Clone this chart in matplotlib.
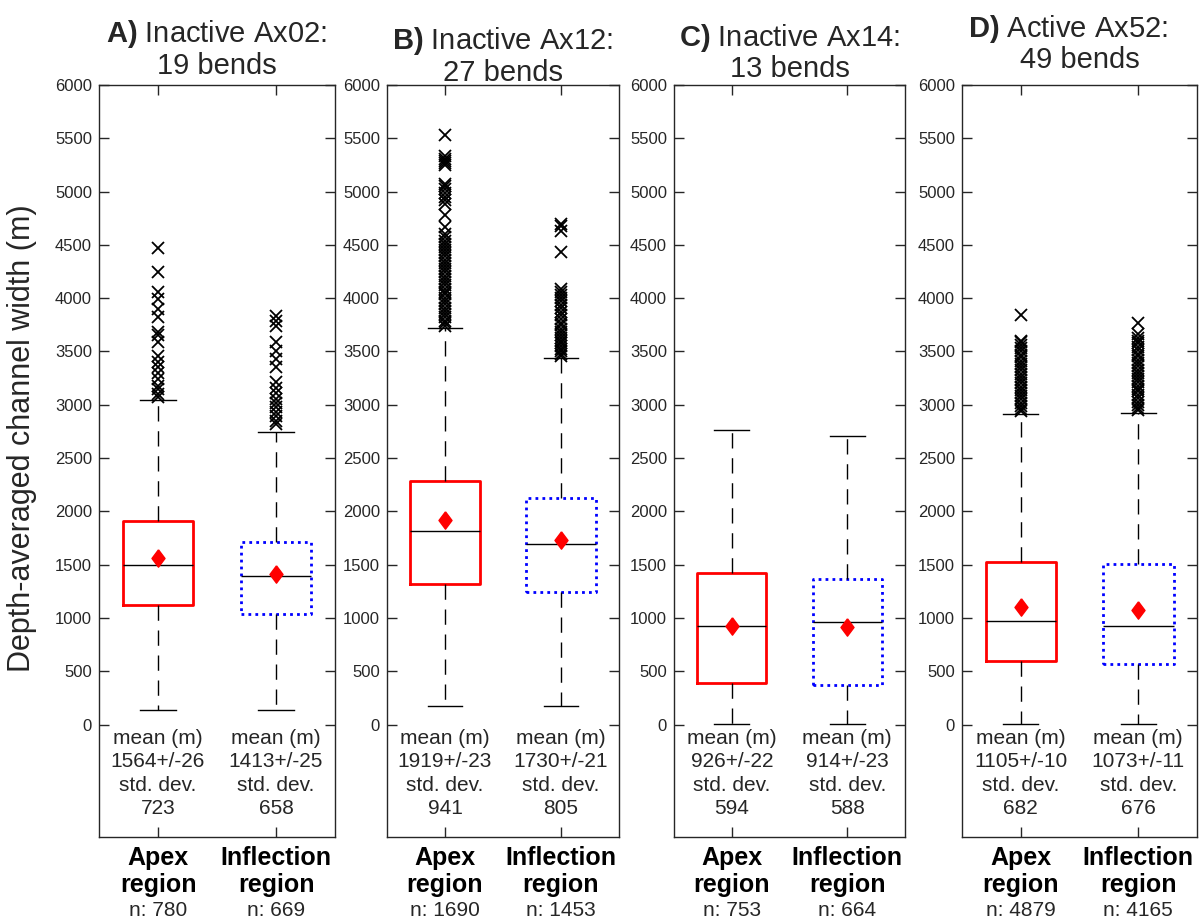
import numpy as np
import matplotlib.pyplot as plt
from matplotlib.transforms import blended_transform_factory

plt.rcParams['font.family'] = 'Liberation Sans'
plt.rcParams['mathtext.fontset'] = 'custom'
plt.rcParams['mathtext.rm'] = 'Liberation Sans'
plt.rcParams['mathtext.bf'] = 'Liberation Sans:bold'

# ---- data ----
panel_tag  = ['A)', 'B)', 'C)', 'D)']
panel_name = ['Inactive Ax02:', 'Inactive Ax12:', 'Inactive Ax14:', 'Active Ax52:']
n_bends    = [19, 27, 13, 49]
region_lbl = ['Apex', 'Inflection']

# each entry: [apex, inflection]
q1_w     = [[1117, 1039], [1322, 1247], [387, 375], [597, 572]]
med_w    = [[1494, 1398], [1819, 1697], [922, 959], [972, 922]]
q3_w     = [[1905, 1714], [2287, 2128], [1418, 1366], [1525, 1509]]
whislo_w = [[136, 133], [178, 178], [5, 5], [3, 3]]
whishi_w = [[3042, 2744], [3719, 3443], [2768, 2703], [2916, 2925]]
mean_w   = [[1564, 1413], [1919, 1730], [926, 914], [1105, 1073]]
sem_w    = [[26, 25], [23, 21], [22, 23], [10, 11]]
std_w    = [[723, 658], [941, 805], [594, 588], [682, 676]]
n_obs    = [[780, 669], [1690, 1453], [753, 664], [4879, 4165]]

out_A_apex = [4470, 4250, 4055, 3990, 3900, 3820, 3680, 3650, 3590, 3460, 3400,
              3350, 3300, 3240, 3180, 3150, 3100, 3070]
out_A_infl = [3835, 3790, 3740, 3585, 3505, 3430, 3350, 3210, 3160, 3115, 3050,
              3020, 2975, 2930, 2895, 2850, 2815]
out_B_apex = [5527, 5330, 5305, 5290, 5265, 5245, 5074, 5050, 5020, 4985, 4950,
              4920, 4880, 4780, 4670, 4605, 4575, 4540, 4512, 4480, 4455, 4420,
              4395, 4360, 4330, 4305, 4270, 4245, 4210, 4180, 4150, 4125, 4090,
              4060, 4035, 4000, 3970, 3945, 3910, 3880, 3855, 3820, 3790, 3765,
              3740]
out_B_infl = [4700, 4680, 4630, 4430, 4090, 4060, 4030, 4005, 3970, 3940, 3905,
              3870, 3840, 3805, 3770, 3745, 3710, 3680, 3650, 3625, 3600, 3580,
              3555, 3520, 3500, 3480, 3460]
out_C_apex = []
out_C_infl = []
out_D_apex = [3845, 3600, 3585, 3560, 3530, 3500, 3470, 3445, 3410, 3380, 3350,
              3325, 3290, 3260, 3230, 3205, 3170, 3140, 3110, 3085, 3050, 3020,
              2990, 2960, 2940]
out_D_infl = [3770, 3660, 3630, 3600, 3575, 3540, 3510, 3480, 3455, 3420, 3390,
              3365, 3330, 3300, 3270, 3245, 3210, 3180, 3150, 3125, 3090, 3060,
              3030, 3000, 2970, 2950]
outliers = [[out_A_apex, out_A_infl], [out_B_apex, out_B_infl],
            [out_C_apex, out_C_infl], [out_D_apex, out_D_infl]]

# ---- layout ----
W, H = 1201, 922
ax_left_px  = [99, 387, 674, 962]
ax_right_px = [335, 619, 905, 1197]
ax_top_px, ax_bot_px = 85, 837
title_base1 = [42, 49, 46, 37]
title_base2 = [74, 81, 77, 68]
title_dx1 = [0, 0, 0, -12]
title_dx2 = [0, 0, 0, 0]

txt_col = '#262626'
box_col = ['red', 'blue']
box_ls = ['-', (0, (1, 1.5))]
diamond = [(0, 1), (0.75, 0), (0, -1), (-0.75, 0), (0, 1)]

def fy(y):
    return 1 - y / H

fig = plt.figure(figsize=(W / 100, H / 100), dpi=100)

for p in range(4):
    l = ax_left_px[p] / W
    w = (ax_right_px[p] - ax_left_px[p]) / W
    b = fy(ax_bot_px)
    h = (ax_bot_px - ax_top_px) / H
    ax = fig.add_axes([l, b, w, h])

    for k in range(2):
        st = dict(med=med_w[p][k], q1=q1_w[p][k], q3=q3_w[p][k],
                  whislo=whislo_w[p][k], whishi=whishi_w[p][k],
                  mean=mean_w[p][k], fliers=np.array(outliers[p][k]))
        ax.bxp([st], positions=[k + 1], widths=0.6, showmeans=True,
               manage_ticks=False,
               boxprops=dict(color=box_col[k], linewidth=2, linestyle=box_ls[k]),
               whiskerprops=dict(color='black', linewidth=1, linestyle=(0, (11, 7))),
               capprops=dict(color='black', linewidth=1),
               medianprops=dict(color='black', linewidth=1),
               meanprops=dict(marker=diamond, markerfacecolor='red',
                              markeredgecolor='red', markersize=12.5),
               flierprops=dict(marker='x', markeredgecolor='black',
                               markersize=9, markeredgewidth=1.3, linestyle='none'))

        tr = blended_transform_factory(ax.transData, fig.transFigure)
        stat_lines = ['mean (m)', '%d+/-%d' % (mean_w[p][k], sem_w[p][k]),
                      'std. dev.', '%d' % std_w[p][k]]
        for j, s in enumerate(stat_lines):
            ax.text(k + 1, fy(744 + 23.3 * j), s, transform=tr, ha='center',
                    va='baseline', fontsize=15, color=txt_col)
        ax.text(k + 1, fy(865), region_lbl[k], transform=tr, ha='center',
                va='baseline', fontsize=18, fontweight='bold', color='black')
        ax.text(k + 1, fy(892), 'region', transform=tr, ha='center',
                va='baseline', fontsize=18, fontweight='bold', color='black')
        ax.text(k + 1, fy(916), 'n: %d' % n_obs[p][k], transform=tr, ha='center',
                va='baseline', fontsize=15, color=txt_col)

    ax.set_xlim(0.5, 2.5)
    ax.set_ylim(-1055, 6000)
    ax.set_xticks([1, 2])
    ax.set_yticks(np.arange(0, 6001, 500))
    ax.tick_params(direction='in', length=7, width=1, top=True, right=True,
                   labelbottom=False, labelsize=12, pad=5, colors=txt_col)
    for sp in ax.spines.values():
        sp.set_color(txt_col)
        sp.set_linewidth(1)

    xc = (ax_left_px[p] + ax_right_px[p]) / 2
    fig.text((xc + title_dx1[p]) / W, fy(title_base1[p]),
             r'$\bf{' + panel_tag[p] + '}$ ' + panel_name[p],
             ha='center', va='baseline', fontsize=21, color=txt_col)
    fig.text((xc + title_dx2[p]) / W, fy(title_base2[p]), '%d bends' % n_bends[p],
             ha='center', va='baseline', fontsize=21, color=txt_col)

fig.text(22 / W, fy(438), 'Depth-averaged channel width (m)', rotation=90,
         ha='center', va='center', fontsize=22, color=txt_col)

plt.savefig('out.png', dpi=100)
